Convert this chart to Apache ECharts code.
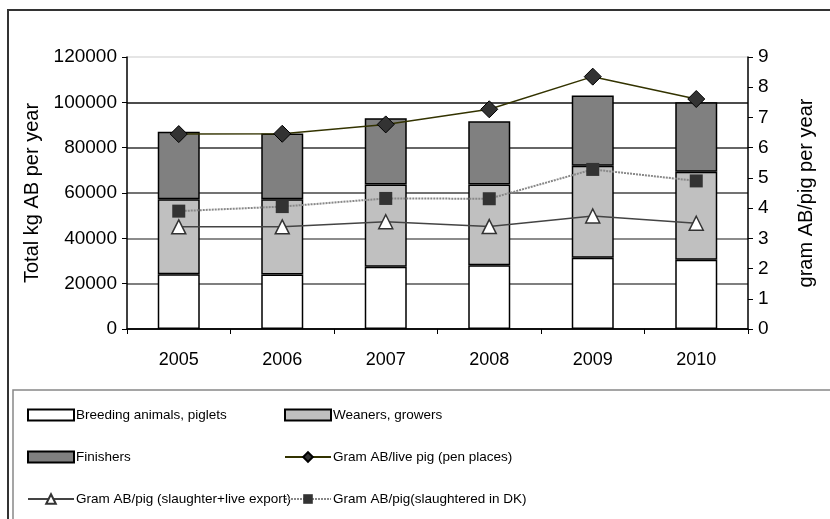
<!DOCTYPE html>
<html>
<head>
<meta charset="utf-8">
<script src="https://cdn.jsdelivr.net/npm/echarts@6/dist/echarts.min.js"></script>
<style>
  html, body { margin: 0; padding: 0; background: #fff; }
  #chart { width: 830px; height: 519px; }
</style>
</head>
<body>
<div id="chart"></div>
<script>
// data
var years = ['2005', '2006', '2007', '2008', '2009', '2010'];
var breeding = [24100, 24000, 27500, 28100, 31400, 30600];
var weaners = [33100, 33200, 36200, 35700, 40600, 38800];
var finishers = [29800, 29100, 29300, 27900, 31000, 30600];
var livePig = [6.45, 6.46, 6.77, 7.27, 8.35, 7.61];
var slaughterExport = [3.38, 3.38, 3.55, 3.39, 3.74, 3.50];
var slaughteredDK = [3.90, 4.05, 4.32, 4.31, 5.28, 4.90];

var names = [
    'Breeding animals, piglets',
    'Weaners, growers',
    'Finishers',
    'Gram AB/live pig (pen places)',
    'Gram AB/pig (slaughter+live export)',
    'Gram AB/pig(slaughtered in DK)'
];

var font = 'Liberation Sans';

var chartDom = document.getElementById('chart');
var myChart = echarts.init(chartDom);
var option;

function barSeries(name, data, color) {
    return {
        name: name,
        type: 'bar',
        stack: 'total',
        yAxisIndex: 0,
        barWidth: 42,
        data: data,
        itemStyle: { color: color, borderColor: '#000', borderWidth: 1.5 },
        emphasis: { disabled: true }
    };
}

// one legend per entry so each sits where the reference has it
var legendPos = [[22, 403], [279, 403], [22, 445], [279, 445], [22, 487], [279, 487]];
var legends = names.map(function (n, i) {
    return {
        left: legendPos[i][0],
        top: legendPos[i][1],
        itemWidth: 46,
        itemHeight: i < 3 ? 11 : 12,
        itemGap: 4,
        selectedMode: false,
        textStyle: { fontFamily: font, fontSize: 13.5, color: '#000', padding: [0, 0, 0, -3] },
        data: [i < 3 ? { name: n, icon: 'rect' } : n]
    };
});

option = {
    animation: false,
    textStyle: { fontFamily: font },
    graphic: [
        {
            type: 'rect',
            shape: { x: 8, y: 10, width: 830, height: 520 },
            style: { fill: 'none', stroke: '#333', lineWidth: 2 },
            silent: true
        },
        {
            type: 'rect',
            shape: { x: 13, y: 390, width: 830, height: 140 },
            style: { fill: 'none', stroke: '#888', lineWidth: 1.5 },
            silent: true
        }
    ],
    grid: { left: 127, right: 82, top: 57, bottom: 190 },
    legend: legends,
    xAxis: {
        type: 'category',
        data: years,
        boundaryGap: true,
        axisLine: { lineStyle: { color: '#000', width: 1.5 } },
        axisTick: { show: true, length: 5, lineStyle: { color: '#000' } },
        axisLabel: { color: '#000', fontFamily: font, fontSize: 18, margin: 22 }
    },
    yAxis: [
        {
            type: 'value',
            min: 0,
            max: 120000,
            interval: 20000,
            name: 'Total kg AB per year',
            nameLocation: 'middle',
            nameGap: 82,
            nameTextStyle: { fontFamily: font, fontSize: 20, color: '#000' },
            axisLine: { show: true, lineStyle: { color: '#000', width: 1.5 } },
            axisTick: { show: true, length: 5, lineStyle: { color: '#000' } },
            axisLabel: {
                color: '#000', fontFamily: font, fontSize: 19, margin: 10,
                formatter: function (v) { return String(v); }
            },
            splitLine: {
                lineStyle: {
                    color: ['#000', '#555', '#666', '#444', '#333', '#111', '#ddd'],
                    width: 1.5
                }
            }
        },
        {
            type: 'value',
            min: 0,
            max: 9,
            interval: 1,
            name: 'gram AB/pig per year',
            nameLocation: 'middle',
            nameGap: 48,
            nameTextStyle: { fontFamily: font, fontSize: 20, color: '#000' },
            axisLine: { show: true, lineStyle: { color: '#000', width: 1.5 } },
            axisTick: { show: true, length: 5, lineStyle: { color: '#000' } },
            axisLabel: { color: '#000', fontFamily: font, fontSize: 19, margin: 10 },
            splitLine: { show: false }
        }
    ],
    series: [
        barSeries(names[0], breeding, '#ffffff'),
        barSeries(names[1], weaners, '#c0c0c0'),
        barSeries(names[2], finishers, '#808080'),
        {
            name: names[3],
            type: 'line',
            yAxisIndex: 1,
            data: livePig,
            symbol: 'diamond',
            symbolSize: 17,
            lineStyle: { color: '#333300', width: 1.5 },
            itemStyle: { color: '#333', borderColor: '#000', borderWidth: 1 },
            emphasis: { disabled: true }
        },
        {
            name: names[4],
            type: 'line',
            yAxisIndex: 1,
            data: slaughterExport,
            symbol: 'triangle',
            symbolSize: 14,
            lineStyle: { color: '#444', width: 1.5 },
            itemStyle: { color: '#fff', borderColor: '#333', borderWidth: 1.5 },
            emphasis: { disabled: true }
        },
        {
            name: names[5],
            type: 'line',
            yAxisIndex: 1,
            data: slaughteredDK,
            symbol: 'rect',
            symbolSize: 13,
            lineStyle: { color: '#888', width: 2, type: [2, 1] },
            itemStyle: { color: '#333', borderColor: '#333', borderWidth: 0 },
            emphasis: { disabled: true }
        }
    ]
};

option && myChart.setOption(option);
</script>
</body>
</html>
